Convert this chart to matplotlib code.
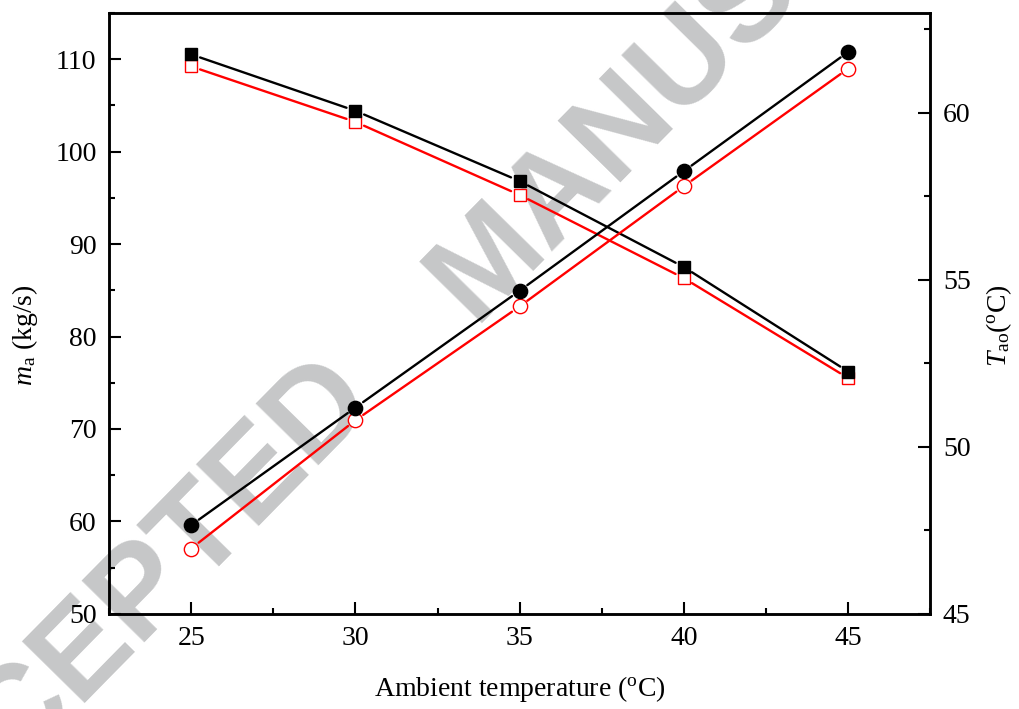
import matplotlib
matplotlib.use("Agg")
import matplotlib.pyplot as plt
from matplotlib.ticker import MultipleLocator

plt.rcParams['font.family'] = ['Liberation Serif', 'DejaVu Serif']
plt.rcParams['mathtext.fontset'] = 'custom'
plt.rcParams['mathtext.rm'] = 'Liberation Serif'
plt.rcParams['mathtext.it'] = 'Liberation Serif:italic'

# ambient temperature, oC
t_amb = [25, 30, 35, 40, 45]
# air mass flow, kg/s (left axis)
ma_1 = [110.5, 104.4, 96.8, 87.5, 76.2]
ma_2 = [109.2, 103.2, 95.3, 86.3, 75.5]
# air outlet temperature, oC (right axis)
tao_1 = [47.66, 51.18, 54.68, 58.26, 61.83]
tao_2 = [46.96, 50.80, 54.21, 57.81, 61.33]

W, H = 1019, 709


def draw(a, x, y, color, marker, filled, ms, z):
    # origin-style: line segments stop a little before each symbol
    for i in range(len(x) - 1):
        a.annotate('', xy=(x[i + 1], y[i + 1]), xytext=(x[i], y[i]),
                   arrowprops=dict(arrowstyle='-', color=color, lw=1.7,
                                   shrinkA=6.8, shrinkB=6.8),
                   zorder=z)
    a.plot(x, y, linestyle='none', marker=marker, ms=ms,
           mfc=color if filled else 'white', mec=color, mew=1.0, zorder=z + 1)


fig = plt.figure(figsize=(W / 100, H / 100), dpi=100)
ax = fig.add_axes([0.107, 0.134, 0.806, 0.848])
ax.set_facecolor('none')
ax2 = ax.twinx()

# watermark (two words along a diagonal, behind everything)
for word, (px, py) in [('ACCEPTED', (108, 630)), ('MANUSCRIPT', (748, -3))]:
    fig.text(px / W, 1 - py / H, word, fontsize=92, fontweight='bold',
             family='Liberation Sans', color='#c6c7c8', rotation=45.5,
             ha='center', va='center', rotation_mode='anchor', zorder=-1)

draw(ax, t_amb, ma_2, 'red', 's', False, 9.3, 3)
draw(ax, t_amb, ma_1, 'black', 's', True, 9.3, 5)
draw(ax2, t_amb, tao_2, 'red', 'o', False, 10.3, 3)
draw(ax2, t_amb, tao_1, 'black', 'o', True, 10.3, 5)

ax.set_xlim(22.5, 47.5)
ax.set_ylim(50, 115)
ax2.set_ylim(45, 63)

ax.set_xticks([25, 30, 35, 40, 45])
ax.xaxis.set_minor_locator(MultipleLocator(2.5))
ax.set_yticks([50, 60, 70, 80, 90, 100, 110])
ax.yaxis.set_minor_locator(MultipleLocator(5))
ax2.set_yticks([45, 50, 55, 60])
ax2.yaxis.set_minor_locator(MultipleLocator(2.5))

for a in (ax, ax2):
    for s in a.spines.values():
        s.set_linewidth(1.8)
ax.tick_params(which='both', direction='in', width=1.5, labelsize=20,
               top=False, right=False, pad=9)
ax.tick_params(which='major', length=8.6)
ax.tick_params(which='minor', length=4.6)
ax2.tick_params(which='both', direction='in', width=1.5, labelsize=20, pad=9)
ax2.tick_params(which='major', length=8.6)
ax2.tick_params(which='minor', length=4.6)

ax.set_xlabel(r'Ambient temperature ($^{\rm o}$C)', fontsize=20)
ax.set_ylabel(r'$m_{\rm a}$ (kg/s)', fontsize=20)
ax2.set_ylabel(r'$T_{\rm ao}$($^{\rm o}$C)', fontsize=20, rotation=90)
ax.xaxis.set_label_coords(0.5, -0.10)
ax.yaxis.set_label_coords(-0.084, 0.464)
ax2.yaxis.set_label_coords(1.066, 0.48)

fig.savefig('out.png', dpi=100)
